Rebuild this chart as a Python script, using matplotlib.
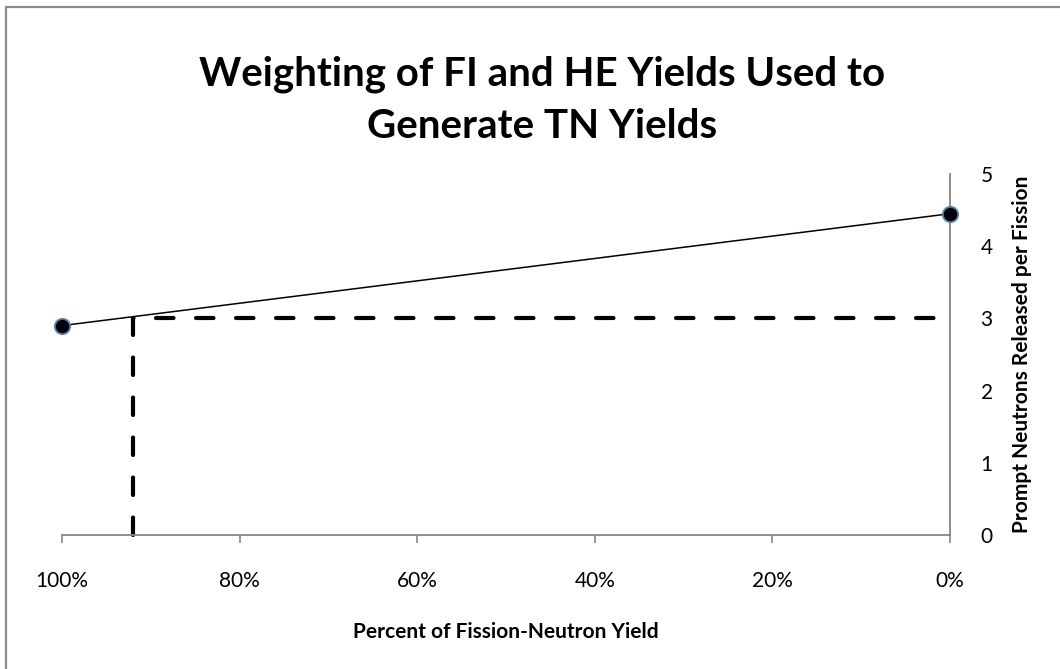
import matplotlib
matplotlib.use("Agg")
import matplotlib.pyplot as plt
from matplotlib.patches import Rectangle
from matplotlib.ticker import FuncFormatter

# Data
fission_pct = [100, 0]                  # percent of fission-neutron yield
neutrons = [2.9, 4.45]                  # prompt neutrons released per fission
ref_path_x = [92, 92, 0]                # dashed reference line (percent)
ref_path_y = [0, 3, 3]
x_ticks = [100, 80, 60, 40, 20, 0]
y_ticks = [0, 1, 2, 3, 4, 5]

title = "Weighting of FI and HE Yields Used to\nGenerate TN Yields"
xlabel = "Percent of Fission-Neutron Yield"
ylabel = "Prompt Neutrons Released per Fission"

plt.rcParams['font.family'] = ['Lato', 'DejaVu Sans']

fig = plt.figure(figsize=(10.6, 6.69), dpi=100)
fig.patch.set_facecolor('white')
W, H = 1060, 669
ax = fig.add_axes([62 / W, 1 - 535 / H, (950 - 62) / W, (535 - 174) / H])

# border
fig.patches.append(Rectangle((6 / W, -0.1), 1.2, 1 - 7 / H + 0.1, transform=fig.transFigure,
                             fill=False, edgecolor='#8c8c8c', linewidth=1.6, zorder=0))

ax.plot(ref_path_x, ref_path_y, color='black', linewidth=3.0, linestyle=(0, (4.2, 5.4)),
        dash_capstyle='round', solid_joinstyle='miter', zorder=2, clip_on=False)
ax.plot(fission_pct, neutrons, color='black', linewidth=1.1, marker='o', markersize=11,
        markerfacecolor='black', markeredgecolor='#4F81BD', markeredgewidth=1.3,
        zorder=3, clip_on=False)

ax.set_xlim(100, 0)
ax.set_ylim(0, 5)
ax.set_xticks(x_ticks)
ax.xaxis.set_major_formatter(FuncFormatter(lambda v, p: f"{int(v)}%"))
ax.set_yticks(y_ticks)

for s in ['top', 'left']:
    ax.spines[s].set_visible(False)
for s in ['bottom', 'right']:
    ax.spines[s].set_color('#868686')
    ax.spines[s].set_linewidth(1.3)

ax.yaxis.tick_right()
ax.yaxis.set_label_position('right')
ax.tick_params(axis='x', direction='out', length=6, width=1.2, color='#868686',
               labelsize=15, pad=20)
ax.tick_params(axis='y', length=0, labelsize=15, pad=22)

ax.set_xlabel(xlabel, fontsize=15, fontweight='bold', labelpad=22)
ax.set_ylabel(ylabel, fontsize=15, fontweight='bold', labelpad=14)

fig.text(542 / W, 1 - 100 / H, title, ha='center', va='center', fontsize=29,
         fontweight='bold', linespacing=1.5)

fig.savefig('out.png', dpi=100, facecolor='white')
